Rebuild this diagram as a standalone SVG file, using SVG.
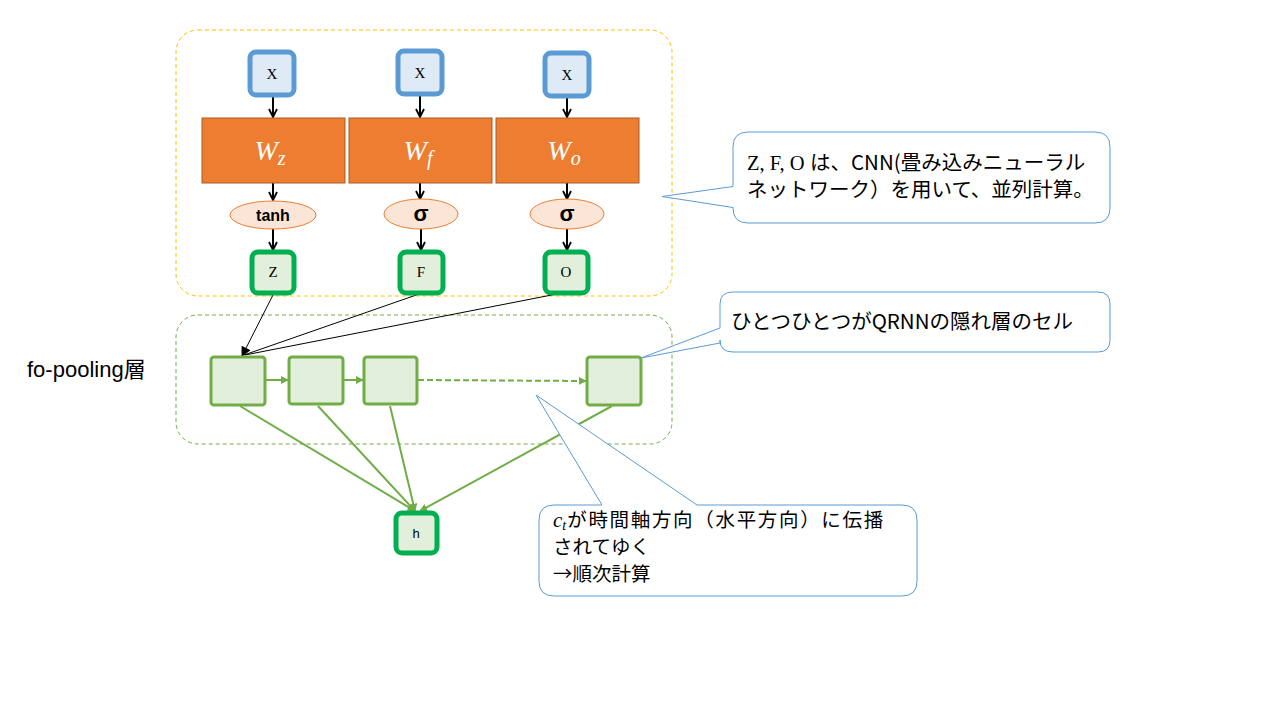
<svg xmlns="http://www.w3.org/2000/svg" width="1280" height="720" viewBox="0 0 1280 720">
<defs>
<style>
.xbox{fill:#DEEBF7;stroke:#5B9BD5;stroke-width:5}
.gbox{fill:#E2EFDA;stroke:#00B050;stroke-width:5}
.wbox{fill:#ED7D31;stroke:#AE5A21;stroke-width:1}
.act{fill:#FBE5D6;stroke:#ED7D31;stroke-width:1}
.cell{fill:#E2EFDA;stroke:#70AD47;stroke-width:3}
.lbl{font-family:"Liberation Serif",serif;font-size:15px;fill:#000;text-anchor:middle}
.wl{font-family:"Liberation Serif",serif;font-style:italic;font-size:28px;fill:#fff;text-anchor:middle}
.blk{stroke:#000;stroke-width:2;fill:none}
.thin{stroke:#000;stroke-width:1;fill:none}
.grn{stroke:#70AD47;stroke-width:2;fill:none}
.call{fill:#fff;stroke:#5B9BD5;stroke-width:1}
.jp{font-family:"Noto Sans CJK JP","Noto Sans",sans-serif;font-size:20.5px;fill:#000}
.jp3{font-family:"Noto Sans CJK JP","Noto Sans",sans-serif;font-size:19.5px;fill:#000}
</style>
<marker id="va" viewBox="0 0 10 10" refX="9" refY="5" markerWidth="10" markerHeight="10" markerUnits="userSpaceOnUse" orient="auto">
<path d="M1,1 L9,5 L1,9" fill="none" stroke="#000" stroke-width="1.8"/>
</marker>
<marker id="ba" viewBox="0 0 10 10" refX="9" refY="5" markerWidth="12" markerHeight="10" markerUnits="userSpaceOnUse" orient="auto">
<path d="M0,0 L10,5 L0,10 Z" fill="#000"/>
</marker>
<marker id="ga" viewBox="0 0 10 10" refX="9" refY="5" markerWidth="8" markerHeight="8" markerUnits="userSpaceOnUse" orient="auto">
<path d="M0,0 L10,5 L0,10 Z" fill="#70AD47"/>
</marker>
</defs>

<g id="cnn-group">
<rect x="176" y="30" width="496" height="266" rx="22" fill="none" stroke="#FFC000" stroke-width="1" stroke-dasharray="4,3"/>
</g>
<g id="pool-group">
<rect x="176" y="315" width="496" height="129" rx="22" fill="none" stroke="#70AD47" stroke-width="1" stroke-dasharray="4,3"/>
</g>

<g id="connectors">
<line class="blk" x1="273" y1="96" x2="273" y2="117" marker-end="url(#va)"/>
<line class="blk" x1="420" y1="95" x2="420" y2="117" marker-end="url(#va)"/>
<line class="blk" x1="567" y1="97" x2="567" y2="117" marker-end="url(#va)"/>
<line class="blk" x1="273" y1="183" x2="273" y2="200" marker-end="url(#va)"/>
<line class="blk" x1="420" y1="183" x2="420" y2="199" marker-end="url(#va)"/>
<line class="blk" x1="567" y1="183" x2="567" y2="199" marker-end="url(#va)"/>
<line class="blk" x1="273" y1="229" x2="273" y2="250" marker-end="url(#va)"/>
<line class="blk" x1="421" y1="229" x2="421" y2="250" marker-end="url(#va)"/>
<line class="blk" x1="567" y1="229" x2="567" y2="250" marker-end="url(#va)"/>
<line class="thin" x1="274" y1="293" x2="242" y2="356" marker-end="url(#ba)"/>
<line class="thin" x1="422" y1="293" x2="244" y2="355"/>
<line class="thin" x1="567" y1="292" x2="245" y2="355"/>
<line class="grn" x1="266" y1="380" x2="288" y2="380" marker-end="url(#ga)"/>
<line class="grn" x1="344" y1="380" x2="363" y2="380" marker-end="url(#ga)"/>
<line class="grn" x1="418" y1="380" x2="586" y2="381" stroke-dasharray="6,3" marker-end="url(#ga)"/>
<line class="grn" x1="240" y1="406" x2="415" y2="511" marker-end="url(#ga)"/>
<line class="grn" x1="318" y1="406" x2="415" y2="511" marker-end="url(#ga)"/>
<line class="grn" x1="390" y1="406" x2="415" y2="511" marker-end="url(#ga)"/>
<line class="grn" x1="612" y1="406" x2="420" y2="511" marker-end="url(#ga)"/>
</g>

<g id="x1"><rect class="xbox" x="250" y="52" width="44" height="43" rx="6"/><text class="lbl" x="272" y="79">X</text></g>
<g id="x2"><rect class="xbox" x="398" y="51" width="44" height="43" rx="6"/><text class="lbl" x="420" y="78">X</text></g>
<g id="x3"><rect class="xbox" x="545" y="53" width="44" height="43" rx="6"/><text class="lbl" x="567" y="80">X</text></g>

<g id="wz"><rect class="wbox" x="202" y="118" width="143" height="65"/><text class="wl" x="270" y="160">W<tspan font-size="20" dy="5">z</tspan></text></g>
<g id="wf"><rect class="wbox" x="349" y="118" width="143" height="65"/><text class="wl" x="418" y="160">W<tspan font-size="20" dy="5">f</tspan></text></g>
<g id="wo"><rect class="wbox" x="496" y="118" width="143" height="65"/><text class="wl" x="564" y="160">W<tspan font-size="20" dy="5">o</tspan></text></g>

<g id="tanh"><ellipse class="act" cx="273" cy="215" rx="43" ry="14"/><text x="273" y="221" font-family="Liberation Sans,Arial,sans-serif" font-weight="bold" font-size="16" text-anchor="middle">tanh</text></g>
<g id="sigf"><ellipse class="act" cx="421" cy="214" rx="37" ry="15"/><text x="421" y="221" font-family="Liberation Sans,Arial,sans-serif" font-weight="bold" font-size="22" text-anchor="middle">σ</text></g>
<g id="sigo"><ellipse class="act" cx="567" cy="214" rx="37" ry="15"/><text x="567" y="221" font-family="Liberation Sans,Arial,sans-serif" font-weight="bold" font-size="22" text-anchor="middle">σ</text></g>

<g id="z"><rect class="gbox" x="252" y="252" width="42" height="41" rx="6"/><text class="lbl" x="273" y="277">Z</text></g>
<g id="f"><rect class="gbox" x="400" y="252" width="43" height="41" rx="6"/><text class="lbl" x="421" y="277">F</text></g>
<g id="o"><rect class="gbox" x="545" y="252" width="43" height="41" rx="6"/><text class="lbl" x="566" y="277">O</text></g>

<g id="cell1"><rect class="cell" x="211" y="357" width="54" height="48" rx="3"/></g>
<g id="cell2"><rect class="cell" x="289" y="357" width="54" height="47" rx="3"/></g>
<g id="cell3"><rect class="cell" x="364" y="357" width="53" height="47" rx="3"/></g>
<g id="cell4"><rect class="cell" x="587" y="357" width="54" height="48" rx="3"/></g>

<g id="h"><rect class="gbox" x="396" y="513" width="41" height="40" rx="6"/><text x="416" y="538" font-family="Liberation Sans,Arial,sans-serif" font-size="13" text-anchor="middle">h</text></g>

<g id="label-pool"><text x="27" y="377" font-family="Liberation Sans,'Noto Sans CJK JP',sans-serif" font-size="22">fo-pooling層</text></g>

<g id="callout1">
<path class="call" d="M748,132 H1095 Q1110,132 1110,147 V208 Q1110,223 1095,223 H748 Q733,223 733,208 V207.5 L662,196.5 L733,186.5 V147 Q733,132 748,132 Z"/>
<text class="jp" x="747" y="170"><tspan font-family="Liberation Serif,serif">Z, F, O</tspan><tspan x="810">は、CNN(畳み込みニューラル</tspan></text>
<text class="jp" x="747" y="197">ネットワーク）を用いて、並列計算。</text>
</g>

<g id="callout2">
<path class="call" d="M733,292 H1098 Q1110,292 1110,304 V340 Q1110,352 1098,352 H733 Q720,352 720,340 V343 L641,358 L720,328 V304 Q720,292 733,292 Z"/>
<text class="jp" x="731" y="329">ひとつひとつがQRNNの隠れ層のセル</text>
</g>

<g id="callout3">
<path class="call" d="M554,505 H602 L536,395 L697,505 H902 Q917,505 917,520 V581 Q917,596 902,596 H554 Q539,596 539,581 V520 Q539,505 554,505 Z"/>
<text class="jp3" x="553" y="527"><tspan font-family="Liberation Serif,serif" font-style="italic" font-size="21">c</tspan><tspan font-family="Liberation Serif,serif" font-style="italic" font-size="14" dy="3">t</tspan><tspan dy="-3" dx="1" textLength="316">が時間軸方向（水平方向）に伝播</tspan></text>
<text class="jp3" x="553" y="554">されてゆく</text>
<text class="jp3" x="553" y="581">→順次計算</text>
</g>
</svg>
